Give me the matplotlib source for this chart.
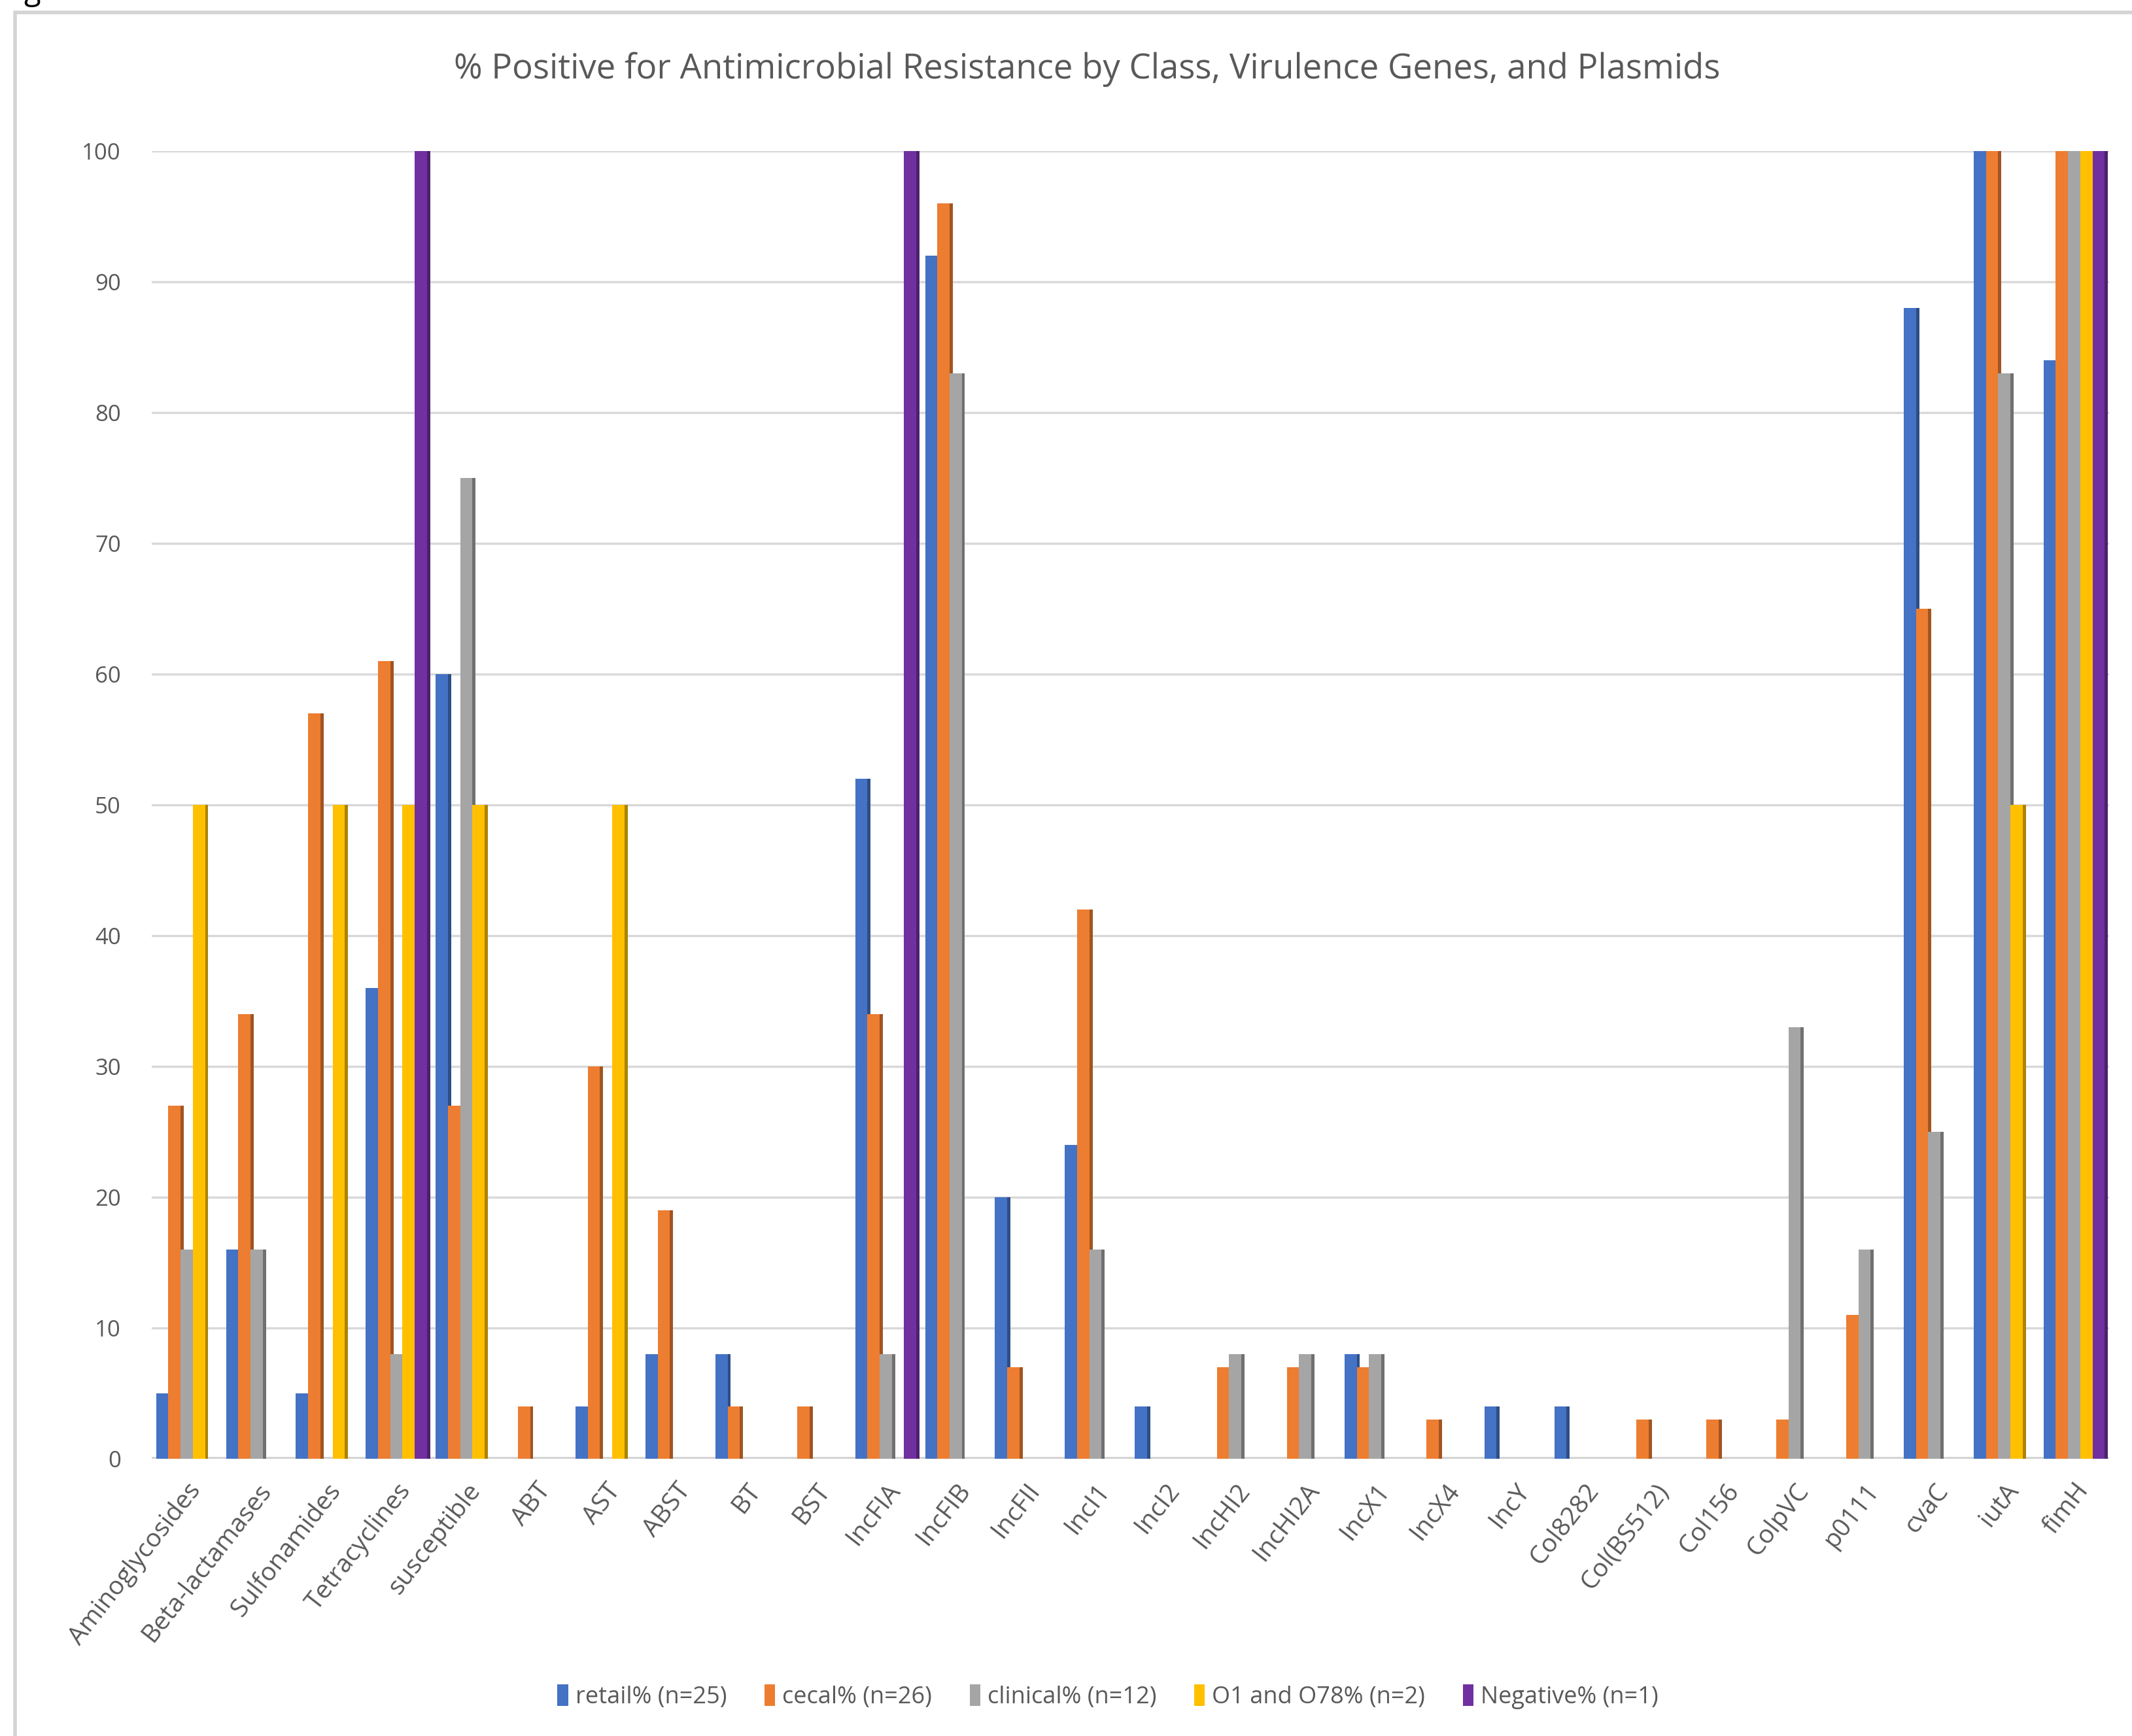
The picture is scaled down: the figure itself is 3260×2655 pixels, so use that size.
import numpy as np
from matplotlib import pyplot as plt
from matplotlib.patches import Rectangle
from matplotlib.colors import to_rgb
from matplotlib.transforms import ScaledTranslation

plt.rcParams['font.family'] = ['Open Sans', 'DejaVu Sans']

categories = ['Aminoglycosides', 'Beta-lactamases', 'Sulfonamides', 'Tetracyclines',
              'susceptible', 'ABT', 'AST', 'ABST', 'BT', 'BST', 'IncFIA', 'IncFIB',
              'IncFII', 'IncI1', 'IncI2', 'IncHI2', 'IncHI2A', 'IncX1', 'IncX4', 'IncY',
              'Col8282', 'Col(BS512)', 'Col156', 'ColpVC', 'p0111', 'cvaC', 'iutA', 'fimH']

retail = [5, 16, 5, 36, 60, 0, 4, 8, 8, 0, 52, 92, 20, 24, 4, 0, 0, 8, 0, 4,
          4, 0, 0, 0, 0, 88, 100, 84]
cecal = [27, 34, 57, 61, 27, 4, 30, 19, 4, 4, 34, 96, 7, 42, 0, 7, 7, 7, 3, 0,
         0, 3, 3, 3, 11, 65, 100, 100]
clinical = [16, 16, 0, 8, 75, 0, 0, 0, 0, 0, 8, 83, 0, 16, 0, 8, 8, 8, 0, 0,
            0, 0, 0, 33, 16, 25, 83, 100]
o1_o78 = [50, 0, 50, 50, 50, 0, 50, 0, 0, 0, 0, 0, 0, 0, 0, 0, 0, 0, 0, 0,
          0, 0, 0, 0, 0, 0, 50, 100]
negative = [0, 0, 0, 100, 0, 0, 0, 0, 0, 0, 100, 0, 0, 0, 0, 0, 0, 0, 0, 0,
            0, 0, 0, 0, 0, 0, 0, 100]

series = [retail, cecal, clinical, o1_o78, negative]
labels = ['retail% (n=25)', 'cecal% (n=26)', 'clinical% (n=12)',
          'O1 and O78% (n=2)', 'Negative% (n=1)']
colors = ['#4472C4', '#ED7D31', '#A5A5A5', '#FFC000', '#7030A0']

W, H = 3260, 2655
fig = plt.figure(figsize=(W / 100, H / 100), dpi=100)
ax = fig.add_axes([232 / W, 424 / H, (3225 - 232) / W, 2000 / H])

x = np.arange(len(categories))
bw = 0.175
side = 0.045
handles = []
for j, (vals, c) in enumerate(zip(series, colors)):
    left = x + (j - 2.5) * bw
    dark = tuple(v * 0.68 for v in to_rgb(c))
    # darker side face for a 3D look, covered by the next series
    ax.bar(left + bw, vals, width=side, align='edge', color=dark, zorder=3)
    b = ax.bar(left, vals, width=bw, align='edge', color=c, zorder=3, label=labels[j])
    handles.append(b)

ax.set_xlim(-0.5, len(categories) - 0.5)
ax.set_ylim(0, 100)
ax.set_yticks(np.arange(0, 101, 10))
ax.yaxis.grid(True, color='#d9d9d9', lw=2.5, zorder=0)
ax.set_axisbelow(True)
for s in ax.spines.values():
    s.set_visible(False)
ax.axhline(0, color='#d0d0d0', lw=4, zorder=2)

ax.set_xticks(x)
ax.set_xticklabels(categories, rotation=52, ha='right', va='top',
                   rotation_mode='anchor', fontsize=28, color='#595959')
shift = ScaledTranslation(-0.18, 0, fig.dpi_scale_trans)
for lab in ax.get_xticklabels():
    lab.set_transform(lab.get_transform() + shift)
ax.tick_params(axis='x', length=0, pad=22)
ax.tick_params(axis='y', length=0, pad=34, labelsize=25, labelcolor='#595959')

fig.text(0.510, 0.960, '% Positive for Antimicrobial Resistance by Class, Virulence Genes, and Plasmids',
         ha='center', va='center', fontsize=38, color='#595959')

fig.legend(handles=handles, loc='center', bbox_to_anchor=(1694 / W, 1 - 2595 / H),
           ncol=5, frameon=False, fontsize=26, handlelength=0.45, handleheight=1.0,
           handletextpad=0.3, columnspacing=1.6, labelcolor='#595959')

# chart frame (continues past the right and bottom edges)
fig.patches.append(Rectangle((23 / W, -0.05), 1.1, 1 - 19 / H + 0.05, fill=False,
                             edgecolor='#d4d4d4', lw=4, transform=fig.transFigure))
fig.text(0.011, 1.0, 'g', fontsize=34, color='black', va='baseline', ha='left')

plt.savefig('out.png', dpi=100)
